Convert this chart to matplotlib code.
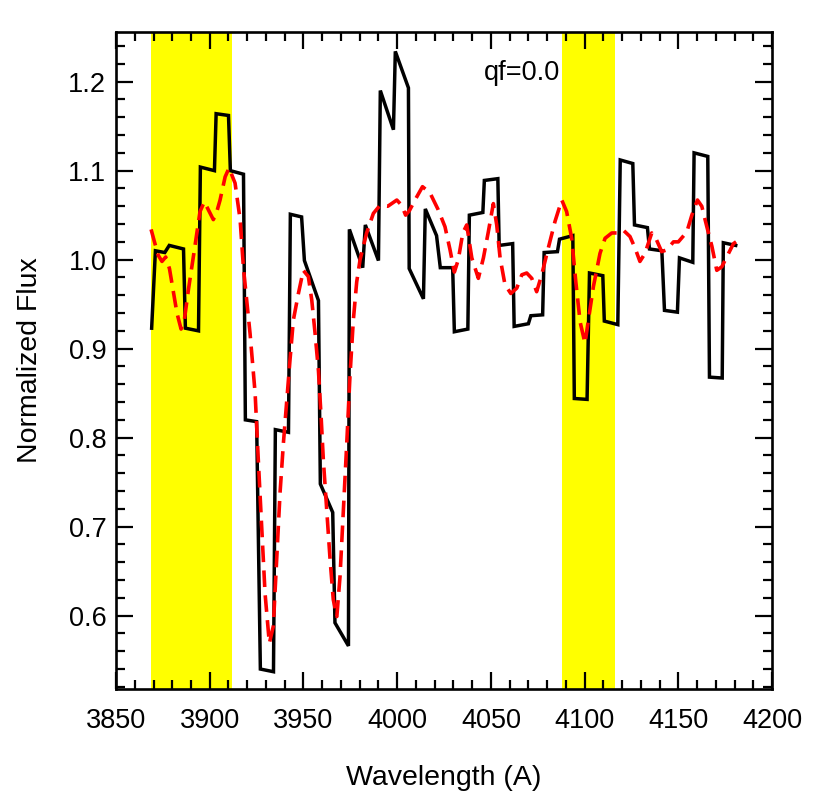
import matplotlib
matplotlib.use("Agg")
import matplotlib.pyplot as plt
from matplotlib.ticker import MultipleLocator, FormatStrFormatter

plt.rcParams['font.family'] = ['Liberation Sans', 'DejaVu Sans']

# Observed (binned) spectrum
obs_wave = [3869.0, 3871.0, 3876.0, 3878.4, 3886.0, 3887.0, 3894.0, 3895.0, 3902.5, 3903.4,
            3910.0, 3911.0, 3918.0, 3919.0, 3925.0, 3927.0, 3934.0, 3935.0, 3942.0, 3943.0,
            3949.0, 3950.5, 3958.0, 3959.0, 3965.6, 3966.8, 3974.0, 3974.5, 3981.6, 3983.0,
            3990.0, 3991.0, 3998.0, 3999.0, 4006.0, 4006.4, 4014.0, 4015.0, 4021.0, 4023.0,
            4029.6, 4030.5, 4037.7, 4038.5, 4045.7, 4046.5, 4053.7, 4054.4, 4061.6, 4062.4,
            4070.0, 4071.3, 4077.6, 4078.4, 4085.5, 4086.6, 4093.7, 4094.5, 4101.3, 4102.6,
            4109.7, 4110.5, 4117.7, 4119.0, 4125.7, 4126.6, 4133.5, 4134.6, 4141.2, 4142.6,
            4149.5, 4150.6, 4157.7, 4158.4, 4165.7, 4166.6, 4173.4, 4174.0, 4180.6]
obs_flux = [0.923, 1.010, 1.008, 1.016, 1.012, 0.923, 0.920, 1.104, 1.100, 1.164,
            1.162, 1.100, 1.096, 0.820, 0.818, 0.540, 0.537, 0.809, 0.806, 1.051,
            1.048, 0.999, 0.954, 0.748, 0.716, 0.592, 0.566, 1.034, 0.991, 1.039,
            0.999, 1.190, 1.146, 1.234, 1.193, 0.990, 0.956, 1.057, 1.027, 0.991,
            0.991, 0.919, 0.922, 1.050, 1.053, 1.089, 1.091, 1.016, 1.018, 0.925,
            0.928, 0.937, 0.938, 1.008, 1.009, 1.023, 1.027, 0.844, 0.843, 0.985,
            0.982, 0.931, 0.927, 1.112, 1.108, 1.039, 1.036, 1.012, 1.010, 0.943,
            0.941, 1.002, 0.997, 1.120, 1.116, 0.868, 0.867, 1.019, 1.016]

# Model spectrum (red dashed)
mod_wave = [3868.7, 3870.5, 3872.5, 3874.5, 3876.5, 3878.5, 3880.5, 3882.5, 3884.7, 3886.3,
            3888.6, 3891.8, 3894.8, 3897.1, 3899.5, 3901.9, 3903.5, 3905.5, 3908.2, 3910.3,
            3913.5, 3916.2, 3918.0, 3921.5, 3924.2, 3925.9, 3927.7, 3929.5, 3931.8, 3933.9,
            3935.7, 3937.5, 3939.3, 3941.1, 3942.8, 3944.6, 3947.3, 3949.9, 3952.6, 3954.4,
            3956.2, 3958.0, 3959.5, 3960.6, 3962.4, 3964.2, 3965.9, 3967.8, 3969.5, 3971.3,
            3973.1, 3974.8, 3976.6, 3978.4, 3980.2, 3983.7, 3987.3, 3990.8, 3995.0, 3999.8,
            4002.4, 4004.5, 4006.5, 4009.5, 4013.5, 4017.5, 4021.9, 4025.5, 4028.2, 4030.5,
            4032.6, 4035.0, 4037.1, 4039.8, 4043.3, 4046.0, 4048.6, 4051.3, 4053.1, 4054.9,
            4057.5, 4060.6, 4063.8, 4066.5, 4069.1, 4071.8, 4074.4, 4077.1, 4080.6, 4084.2,
            4087.8, 4090.4, 4093.1, 4095.3, 4097.6, 4100.2, 4102.0, 4104.7, 4108.2, 4110.9,
            4114.5, 4118.0, 4120.7, 4124.2, 4126.9, 4129.5, 4132.2, 4135.8, 4138.4, 4141.1,
            4143.8, 4147.4, 4150.0, 4154.5, 4157.2, 4160.2, 4162.5, 4165.2, 4167.9, 4170.5,
            4173.2, 4175.8, 4179.4, 4180.8]
mod_flux = [1.034, 1.020, 1.005, 0.998, 1.003, 0.990, 0.965, 0.940, 0.922, 0.930,
            0.966, 1.011, 1.054, 1.065, 1.055, 1.045, 1.052, 1.067, 1.093, 1.103,
            1.086, 1.045, 0.990, 0.917, 0.850, 0.775, 0.700, 0.625, 0.569, 0.588,
            0.663, 0.738, 0.794, 0.842, 0.887, 0.932, 0.962, 0.988, 0.981, 0.955,
            0.917, 0.875, 0.820, 0.775, 0.719, 0.663, 0.618, 0.599, 0.644, 0.719,
            0.794, 0.869, 0.932, 0.975, 1.000, 1.030, 1.052, 1.061, 1.060, 1.067,
            1.061, 1.050, 1.055, 1.067, 1.082, 1.075, 1.056, 1.037, 1.011, 0.986,
            1.000, 1.030, 1.039, 1.002, 0.979, 1.002, 1.031, 1.063, 1.039, 1.002,
            0.972, 0.962, 0.968, 0.983, 0.985, 0.979, 0.964, 0.983, 1.013, 1.043,
            1.067, 1.054, 1.024, 0.975, 0.930, 0.906, 0.932, 0.970, 1.007, 1.024,
            1.030, 1.030, 1.033, 1.026, 1.013, 0.998, 1.007, 1.030, 1.022, 1.009,
            1.011, 1.020, 1.020, 1.031, 1.050, 1.067, 1.060, 1.037, 1.015, 0.988,
            0.992, 1.003, 1.018, 1.020]

# Highlighted bands
bands = [(3868.5, 3911.7), (4087.8, 4116.3)]
label_text = "qf=0.0"

fig = plt.figure(figsize=(8.3, 8.1), dpi=100)
ax = fig.add_axes([0.1398, 0.1494, 0.7904, 0.8111])

for lo, hi in bands:
    ax.axvspan(lo, hi, color='#ffff00', lw=0, zorder=0)

ax.plot(obs_wave, obs_flux, color='black', lw=2.5, solid_joinstyle='miter', zorder=2)
ax.plot(mod_wave, mod_flux, color='#ff0000', lw=2.6, linestyle=(0, (4.6, 2.3)), zorder=3)

ax.set_xlim(3850, 4200)
ax.set_ylim(0.5176, 1.2558)

ax.xaxis.set_major_locator(MultipleLocator(50))
ax.xaxis.set_minor_locator(MultipleLocator(10))
ax.yaxis.set_major_locator(MultipleLocator(0.1))
ax.yaxis.set_minor_locator(MultipleLocator(0.02))
ax.yaxis.set_major_formatter(FormatStrFormatter('%.1f'))

ax.tick_params(which='both', direction='in', top=True, right=True, width=1.6, colors='black')
ax.tick_params(which='major', length=12.5)
ax.tick_params(which='minor', length=6.8)
ax.tick_params(axis='x', which='major', pad=14, labelsize=19.5)
ax.tick_params(axis='y', which='major', pad=7, labelsize=19.5)

for sp in ax.spines.values():
    sp.set_linewidth(1.9)

ax.set_xlabel('Wavelength (A)', fontsize=20.5, labelpad=22)
ax.set_ylabel('Normalized Flux', fontsize=20.5, labelpad=18)

ax.text(4066.5, 1.21, label_text, fontsize=19.5, ha='center', va='center')

fig.savefig('out.png', dpi=100)
